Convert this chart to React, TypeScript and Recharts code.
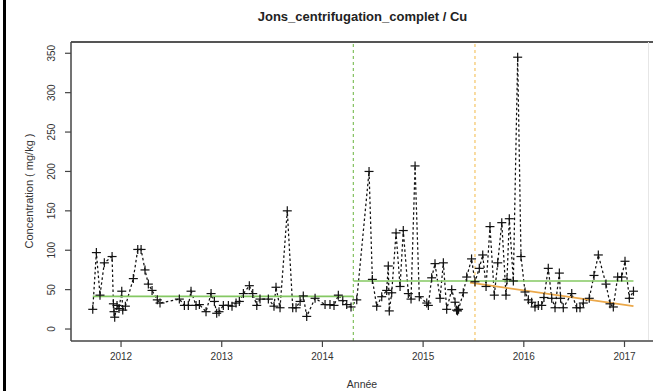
import React from 'react';
import { ComposedChart, Line, XAxis, YAxis, ReferenceLine } from 'recharts';

// sampling dates (decimal years) and Cu concentrations (mg/kg)
const dates = [
  2011.719, 2011.755, 2011.791, 2011.834, 2011.911, 2011.924, 2011.93, 2011.937, 2011.96, 2011.98,
  2012.007, 2012.017, 2012.043, 2012.122, 2012.166, 2012.199, 2012.238, 2012.271, 2012.308, 2012.36,
  2012.387, 2012.579, 2012.629, 2012.668, 2012.695, 2012.745, 2012.778, 2012.844, 2012.894, 2012.927,
  2012.95, 2012.973, 2013.016, 2013.066, 2013.102, 2013.142, 2013.175, 2013.215, 2013.274, 2013.308,
  2013.348, 2013.38, 2013.463, 2013.519, 2013.539, 2013.579, 2013.651, 2013.705, 2013.738, 2013.778,
  2013.81, 2013.844, 2013.927, 2014.026, 2014.075, 2014.115, 2014.158, 2014.202, 2014.241, 2014.284,
  2014.341, 2014.463, 2014.496, 2014.539, 2014.589, 2014.638, 2014.654, 2014.664, 2014.688, 2014.731,
  2014.771, 2014.803, 2014.853, 2014.88, 2014.92, 2014.962, 2015.036, 2015.052, 2015.085, 2015.118,
  2015.168, 2015.201, 2015.234, 2015.284, 2015.317, 2015.332, 2015.342, 2015.352, 2015.399, 2015.433,
  2015.481, 2015.515, 2015.558, 2015.592, 2015.625, 2015.664, 2015.707, 2015.741, 2015.781, 2015.823,
  2015.833, 2015.856, 2015.896, 2015.939, 2015.972, 2016.012, 2016.045, 2016.078, 2016.111, 2016.144,
  2016.178, 2016.2, 2016.243, 2016.277, 2016.31, 2016.353, 2016.365, 2016.392, 2016.476, 2016.525,
  2016.558, 2016.591, 2016.65, 2016.697, 2016.74, 2016.816, 2016.856, 2016.889, 2016.932, 2016.972,
  2017.005, 2017.048, 2017.089,
];

const cu = [
  25, 97, 43, 84, 92, 32, 22, 15, 30, 26,
  48, 24, 29, 64, 101, 101, 75, 57, 49, 37,
  33, 38, 30, 30, 48, 30, 31, 22, 45, 35,
  20, 22, 30, 30, 29, 33, 35, 45, 55, 45,
  30, 38, 38, 29, 53, 27, 150, 27, 27, 35,
  42, 16, 39, 31, 31, 30, 43, 36, 31, 28,
  37, 200, 63, 29, 41, 49, 80, 23, 46, 122,
  54, 125, 45, 38, 207, 41, 33, 30, 65, 83,
  39, 84, 25, 50, 34, 24, 23, 25, 46, 66,
  89, 60, 77, 94, 54, 130, 43, 84, 135, 43,
  63, 140, 61, 345, 92, 47, 37, 34, 28, 30,
  30, 40, 77, 39, 27, 71, 39, 27, 45, 27,
  27, 33, 39, 68, 94, 57, 32, 28, 66, 66,
  86, 39, 48,
];

// break dates (rupture tests) and segment means
const breakDates = [2014.307, 2015.515];
const breakColors = ['#82c05e', '#f4c465'];
const segStart = [2011.719, 2014.307];
const segEnd = [2014.307, 2017.089];
const segMeans = [41.5, 61];

// trend after the second break
const trendDates = [2015.465, 2017.089];
const trendValues = [59, 29];

const xTicks = [2012, 2013, 2014, 2015, 2016, 2017];
const yTicks = [0, 50, 100, 150, 200, 250, 300, 350];

const data = dates.map((t, i) => ({ t, cu: cu[i] }));

const Plus = (props: any) => {
  const { cx, cy } = props;
  if (cx == null || cy == null) return null;
  return (
    <g>
      <line x1={cx - 4.5} y1={cy} x2={cx + 4.5} y2={cy} stroke="#111" strokeWidth={1.2} />
      <line x1={cx} y1={cy - 4.5} x2={cx} y2={cy + 4.5} stroke="#111" strokeWidth={1.2} />
    </g>
  );
};

const YTick = (props: any) => {
  const { x, y, payload } = props;
  const bx = x - 8;
  return (
    <text x={bx} y={y} transform={`rotate(-90 ${bx} ${y})`} textAnchor="middle" fontSize={10} fill="#333">
      {payload.value}
    </text>
  );
};

export default function App() {
  return (
    <div
      style={{
        position: 'absolute',
        left: 0,
        top: 0,
        width: 653,
        height: 391,
        background: '#fff',
        fontFamily: '"Liberation Sans", Arial, sans-serif',
        overflow: 'hidden',
      }}
    >
      <div style={{ position: 'absolute', left: 3, top: 0, width: 3, height: 391, background: '#000' }} />
      <div
        style={{
          position: 'absolute',
          left: 0,
          width: 653,
          top: 9,
          textAlign: 'center',
          paddingLeft: 72,
          boxSizing: 'border-box',
          fontSize: 13,
          fontWeight: 'bold',
          color: '#222',
        }}
      >
        Jons_centrifugation_complet / Cu
      </div>
      <div style={{ position: 'absolute', left: 71, top: 41, width: 582, height: 1.5, background: '#555' }} />
      <div style={{ position: 'absolute', left: 648, top: 42, width: 1, height: 298, background: '#e6e6e6' }} />
      <div
        style={{
          position: 'absolute',
          left: 29,
          top: 191,
          transform: 'translate(-50%, -50%) rotate(-90deg)',
          whiteSpace: 'nowrap',
          fontSize: 11,
          color: '#333',
        }}
      >
        Concentration ( mg/kg )
      </div>
      <div
        style={{
          position: 'absolute',
          left: 362,
          top: 384,
          transform: 'translate(-50%, -50%)',
          fontSize: 10.5,
          color: '#333',
        }}
      >
        Année
      </div>
      <div style={{ position: 'absolute', left: 0, top: 0 }}>
        <ComposedChart width={653} height={391} data={data} margin={{ top: 42, right: 0, bottom: 20, left: 31 }}>
          <XAxis
            dataKey="t"
            type="number"
            domain={[2011.503, 2017.283]}
            ticks={xTicks}
            allowDataOverflow
            height={30}
            tickSize={6}
            tickMargin={6}
            axisLine={{ stroke: '#444', strokeWidth: 1.5 }}
            tickLine={{ stroke: '#444', strokeWidth: 1.2 }}
            tick={{ fontSize: 10, fill: '#333' }}
          />
          <YAxis
            type="number"
            domain={[-15.2, 364.3]}
            ticks={yTicks}
            allowDataOverflow
            width={40}
            tickSize={6}
            axisLine={{ stroke: '#444', strokeWidth: 1.5 }}
            tickLine={{ stroke: '#444', strokeWidth: 1.2 }}
            tick={<YTick />}
          />
          <Line
            dataKey="cu"
            type="linear"
            stroke="#111"
            strokeWidth={1.25}
            strokeDasharray="2.5 2.5"
            dot={<Plus />}
            activeDot={false}
            isAnimationActive={false}
          />
          {breakDates.map((b, i) => (
            <ReferenceLine
              key={`b${i}`}
              x={b}
              stroke={breakColors[i]}
              strokeWidth={1.2}
              strokeDasharray="3 3"
            />
          ))}
          {segMeans.map((m, i) => (
            <ReferenceLine
              key={`s${i}`}
              segment={[
                { x: segStart[i], y: m },
                { x: segEnd[i], y: m },
              ]}
              stroke="#84c862"
              strokeWidth={1.6}
            />
          ))}
          <ReferenceLine
            segment={[
              { x: trendDates[0], y: trendValues[0] },
              { x: trendDates[1], y: trendValues[1] },
            ]}
            stroke="#eba84a"
            strokeWidth={1.8}
          />
        </ComposedChart>
      </div>
    </div>
  );
}
